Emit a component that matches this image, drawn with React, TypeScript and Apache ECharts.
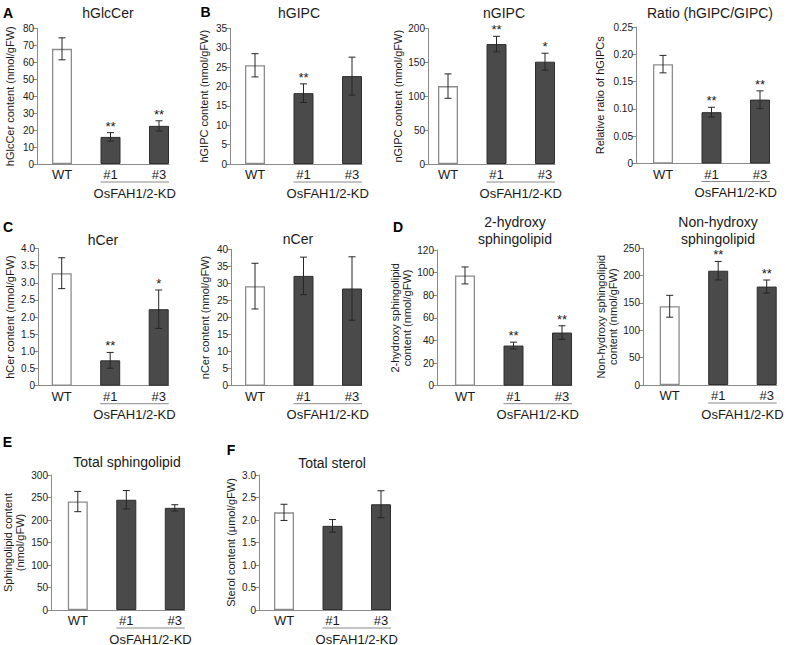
import React, { useEffect, useRef } from "react";
import * as echarts from "echarts";

// ---------- data ----------
const categories = ["WT", "#1", "#3"];
const groupLabel = "OsFAH1/2-KD";

const hGlcCerMean = [68, 16, 22.5];
const hGlcCerErr = [6.5, 2.5, 3];
const hGlcCerSig = ["", "**", "**"];

const hGIPCMean = [25.5, 18.3, 22.7];
const hGIPCErr = [3, 2.4, 4.9];
const hGIPCSig = ["", "**", ""];

const nGIPCMean = [115, 177, 151];
const nGIPCErr = [18, 11.5, 12.5];
const nGIPCSig = ["", "**", "*"];

const ratioMean = [0.182, 0.094, 0.117];
const ratioErr = [0.016, 0.009, 0.016];
const ratioSig = ["", "**", "**"];

const hCerMean = [3.28, 0.74, 2.23];
const hCerErr = [0.45, 0.23, 0.56];
const hCerSig = ["", "**", "*"];

const nCerMean = [29.2, 32.2, 28.5];
const nCerErr = [6.7, 5.5, 9.3];
const nCerSig = ["", "", ""];

const hydroxyMean = [97.5, 35.5, 47];
const hydroxyErr = [7.5, 3, 6];
const hydroxySig = ["", "**", "**"];

const nonHydroxyMean = [144, 209, 180];
const nonHydroxyErr = [20, 17, 12];
const nonHydroxySig = ["", "**", "**"];

const totalSphMean = [241, 245, 227];
const totalSphErr = [22.5, 20.5, 7];
const totalSphSig = ["", "", ""];

const sterolMean = [2.17, 1.87, 2.35];
const sterolErr = [0.18, 0.14, 0.3];
const sterolSig = ["", "", ""];

// ---------- panel definitions ----------
const panels = [
  { letter: "A", title: ["hGlcCer"], yName: "hGlcCer content (nmol/gFW)", max: 80, interval: 10, dec: 0, mean: hGlcCerMean, err: hGlcCerErr, sig: hGlcCerSig },
  { letter: "B", title: ["hGIPC"], yName: "hGIPC content (nmol/gFW)", max: 35, interval: 5, dec: 0, mean: hGIPCMean, err: hGIPCErr, sig: hGIPCSig },
  { letter: "", title: ["nGIPC"], yName: "nGIPC content (nmol/gFW)", max: 200, interval: 50, dec: 0, mean: nGIPCMean, err: nGIPCErr, sig: nGIPCSig },
  { letter: "", title: ["Ratio (hGIPC/GIPC)"], yName: "Relative ratio of hGIPCs", max: 0.25, interval: 0.05, dec: 2, mean: ratioMean, err: ratioErr, sig: ratioSig },
  { letter: "C", title: ["hCer"], yName: "hCer content (nmol/gFW)", max: 4, interval: 0.5, dec: 1, mean: hCerMean, err: hCerErr, sig: hCerSig },
  { letter: "", title: ["nCer"], yName: "nCer content (nmol/gFW)", max: 40, interval: 5, dec: 0, mean: nCerMean, err: nCerErr, sig: nCerSig },
  { letter: "D", title: ["2-hydroxy", "sphingolipid"], yName: "2-hydroxy sphingolipid\ncontent (nmol/gFW)", max: 120, interval: 20, dec: 0, mean: hydroxyMean, err: hydroxyErr, sig: hydroxySig },
  { letter: "", title: ["Non-hydroxy", "sphingolipid"], yName: "Non-hydroxy sphingolipid\ncontent (nmol/gFW)", max: 250, interval: 50, dec: 0, mean: nonHydroxyMean, err: nonHydroxyErr, sig: nonHydroxySig },
  { letter: "E", title: ["Total sphingolipid"], yName: "Sphingolipid content\n(nmol/gFW)", max: 300, interval: 50, dec: 0, mean: totalSphMean, err: totalSphErr, sig: totalSphSig },
  { letter: "F", title: ["Total sterol"], yName: "Sterol content (\u03bcmol/gFW)", max: 3, interval: 0.5, dec: 1, mean: sterolMean, err: sterolErr, sig: sterolSig },
];

// ---------- layout (pixels) ----------
// left: y-axis x; c0: centre of first bar; top/bottom: y of max / zero
const layouts = [
  { left: 37, c0: 62, top: 28.5, bottom: 164, nameGap: 21, tx: 108, ty: 13, lx: 8, ly: 12.5 },
  { left: 230, c0: 255, top: 28.5, bottom: 164, nameGap: 20, tx: 299, ty: 13, lx: 205.5, ly: 12 },
  { left: 428, c0: 448, top: 28.5, bottom: 164, nameGap: 22, tx: 504, ty: 13, lx: 0, ly: 0 },
  { left: 636, c0: 663, top: 27, bottom: 163.5, nameGap: 30, tx: 710, ty: 13, lx: 0, ly: 0 },
  { left: 38, c0: 61.7, top: 248.5, bottom: 385.7, nameGap: 22, tx: 103, ty: 240, lx: 8, ly: 227 },
  { left: 231, c0: 255, top: 249.3, bottom: 385.7, nameGap: 20, tx: 298, ty: 238.5, lx: 0, ly: 0 },
  { left: 437, c0: 465, top: 250, bottom: 385.7, nameGap: 22, tx: 515, ty: 222, lx: 398, ly: 226.5 },
  { left: 643, c0: 669.7, top: 248.3, bottom: 385, nameGap: 24, tx: 718, ty: 222, lx: 0, ly: 0 },
  { left: 51, c0: 77.8, top: 475, bottom: 610, nameGap: 25, tx: 127, ty: 462, lx: 7.5, ly: 441.5 },
  { left: 259, c0: 284, top: 475, bottom: 610, nameGap: 22, tx: 332, ty: 463, lx: 231, ly: 450 },
];

const SPACING = 48.5;
const BAR_W = 20;
const FONT = "'Liberation Sans', Arial, Helvetica, sans-serif";
const TEXT = "#1a1a1a";
const AXIS = "#8a8a8a";

function buildOption() {
  const grid: any[] = [];
  const xAxis: any[] = [];
  const yAxis: any[] = [];
  const series: any[] = [];
  const graphic: any[] = [];

  panels.forEach((p, i) => {
    const L = layouts[i];
    const xmin = -(L.c0 - L.left) / SPACING;
    const xmax = 2 + BAR_W / 2 / SPACING;
    const width = (xmax - xmin) * SPACING;
    grid.push({ left: L.left, top: L.top, width, height: L.bottom - L.top, containLabel: false });
    xAxis.push({
      type: "value",
      gridIndex: i,
      min: xmin,
      max: xmax,
      axisLine: { show: true, onZero: false, lineStyle: { color: AXIS, width: 1 } },
      axisTick: { show: false },
      splitLine: { show: false },
      axisLabel: {
        customValues: [0, 1, 2],
        formatter: (v: number) => categories[Math.round(v)] ?? "",
        fontSize: 13,
        color: TEXT,
        fontFamily: FONT,
        margin: 4,
      },
    });
    yAxis.push({
      type: "value",
      gridIndex: i,
      min: 0,
      max: p.max,
      interval: p.interval,
      name: p.yName,
      nameLocation: "middle",
      nameRotate: 90,
      nameGap: L.nameGap,
      nameTextStyle: { fontSize: 11, color: TEXT, fontFamily: FONT, lineHeight: 12 },
      axisLine: { show: true, onZero: false, lineStyle: { color: AXIS, width: 1 } },
      axisTick: { show: true, length: 4, lineStyle: { color: AXIS } },
      splitLine: { show: false },
      axisLabel: {
        fontSize: 10,
        color: TEXT,
        fontFamily: FONT,
        margin: 3,
        formatter: (v: number) => (v === 0 ? "0" : v.toFixed(p.dec)),
      },
    });
    series.push({
      type: "bar",
      xAxisIndex: i,
      yAxisIndex: i,
      barWidth: BAR_W,
      data: p.mean.map((m, k) => ({
        value: [k, m],
        itemStyle:
          k === 0
            ? { color: "#ffffff", borderColor: "#8c8c8c", borderWidth: 1.3 }
            : { color: "#4a4a4a", borderColor: "#2e2e2e", borderWidth: 1 },
      })),
      z: 2,
    });
    series.push({
      type: "custom",
      xAxisIndex: i,
      yAxisIndex: i,
      z: 5,
      data: p.mean.map((m, k) => [k, m, p.err[k]]),
      renderItem: (params: any, api: any) => {
        const k = params.dataIndex;
        const x = api.value(0);
        const y = api.value(1);
        const e = api.value(2);
        const t = api.coord([x, y + e]);
        const b = api.coord([x, y - e]);
        const cw = 3.5;
        const st = { stroke: "#262626", lineWidth: 1 };
        const children: any[] = [
          { type: "line", shape: { x1: t[0], y1: t[1], x2: b[0], y2: b[1] }, style: st },
          { type: "line", shape: { x1: t[0] - cw, y1: t[1], x2: t[0] + cw, y2: t[1] }, style: st },
          { type: "line", shape: { x1: b[0] - cw, y1: b[1], x2: b[0] + cw, y2: b[1] }, style: st },
        ];
        const s = p.sig[k];
        if (s) {
          children.push({
            type: "text",
            style: {
              text: s,
              x: t[0],
              y: t[1],
              align: "center",
              verticalAlign: "bottom",
              fontSize: 13,
              fontFamily: FONT,
              fill: TEXT,
            },
          });
        }
        return { type: "group", children };
      },
    });
    // group underline + label
    series.push({
      type: "custom",
      xAxisIndex: i,
      yAxisIndex: i,
      z: 5,
      silent: true,
      data: [[1.5, 0]],
      renderItem: (_params: any, api: any) => {
        const a = api.coord([1, 0]);
        const c = api.coord([2, 0]);
        const yl = a[1] + 18;
        return {
          type: "group",
          children: [
            { type: "line", shape: { x1: a[0] - BAR_W / 2, y1: yl, x2: c[0] + BAR_W / 2, y2: yl }, style: { stroke: "#8a8a8a", lineWidth: 1 } },
            {
              type: "text",
              style: {
                text: groupLabel,
                x: (a[0] + c[0]) / 2,
                y: a[1] + 29,
                align: "center",
                verticalAlign: "middle",
                fontSize: 13,
                fontFamily: FONT,
                fill: TEXT,
              },
            },
          ],
        };
      },
    });

    // titles
    p.title.forEach((t, j) => {
      graphic.push({
        type: "text",
        x: L.tx,
        y: L.ty + j * 16.5,
        style: { text: t, align: "center", verticalAlign: "middle", fontSize: 14, fontFamily: FONT, fill: TEXT },
      });
    });
    if (p.letter) {
      graphic.push({
        type: "text",
        x: L.lx,
        y: L.ly,
        style: { text: p.letter, align: "center", verticalAlign: "middle", fontSize: 14, fontWeight: "bold", fontFamily: FONT, fill: "#000" },
      });
    }
  });

  return {
    animation: false,
    backgroundColor: "#ffffff",
    textStyle: { fontFamily: FONT },
    grid,
    xAxis,
    yAxis,
    series,
    graphic,
  };
}

export default function App() {
  const ref = useRef<HTMLDivElement>(null);
  useEffect(() => {
    document.body.style.margin = "0";
    if (!ref.current) return;
    const chart = echarts.init(ref.current, undefined, { renderer: "svg" });
    chart.setOption(buildOption() as any);
    return () => chart.dispose();
  }, []);
  return <div ref={ref} style={{ width: 793, height: 645 }} />;
}
